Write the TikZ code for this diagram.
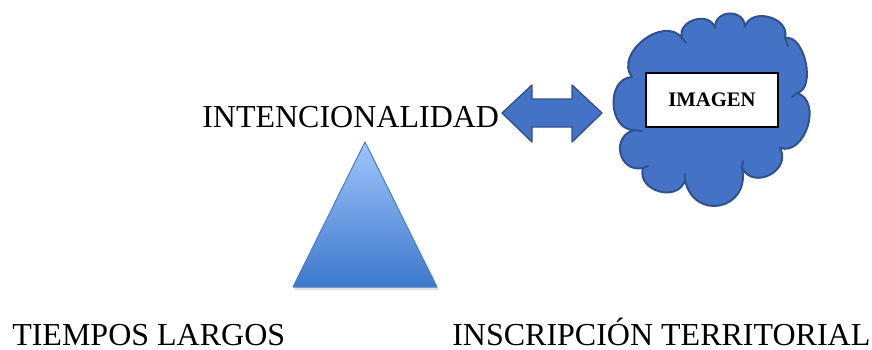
\documentclass[tikz,border=0pt]{standalone}
\usepackage{fontspec}
\setmainfont{Liberation Serif}
\definecolor{accent}{HTML}{4472C4}
\definecolor{accentdark}{HTML}{2F528F}
\definecolor{tritop}{HTML}{A0C4FC}
\definecolor{tribot}{HTML}{3C79CB}
\definecolor{triedge}{HTML}{4A80C8}
\tikzset{
  bigtext/.style={font=\fontsize{24}{28}\selectfont, inner sep=0pt, text depth=0pt, anchor=base west},
  bluefill/.style={fill=accent, draw=accentdark, line width=1.5pt, line join=round},
  hook/.style={draw=accentdark, line width=1.5pt, line cap=round},
}
\begin{document}
\begin{tikzpicture}[x=0.75pt,y=-0.75pt]
\useasboundingbox (0,0) rectangle (872,350);
% cloud
\draw[bluefill] (632,77)
  .. controls (613.9,53.7) and (663.9,14.7) .. (682,38)
  .. controls (676.7,20.4) and (709.7,10.4) .. (715,28)
  .. controls (714.4,9.3) and (744.4,8.3) .. (745,27)
  .. controls (750.6,6.5) and (790.6,17.5) .. (785,38)
  .. controls (804.5,33.7) and (816.5,88.7) .. (797,93)
  .. controls (822.5,100.9) and (805.5,155.9) .. (780,148)
  .. controls (791.8,170.4) and (753.8,190.4) .. (742,168)
  .. controls (750.8,209.8) and (693.8,221.8) .. (685,180)
  .. controls (678.4,203.1) and (636.4,191.1) .. (643,168)
  .. controls (618.2,173.2) and (610.2,135.2) .. (635,130)
  .. controls (608.4,131.5) and (605.4,78.5) .. (632,77) -- cycle;
% small inner hooks at the cloud's indents
\path[hook] (635,130) -- (642,131);
\path[hook] (643,168) -- (648,166);
\path[hook] (685,180) -- (685,174);
\path[hook] (742,168) -- (743,161);
\path[hook] (797,93) -- (792,97);
\path[hook] (682,38) -- (686,43);
\path[hook] (785,38) -- (788,46);
% label box
\node[draw=black, fill=white, line width=0.9pt, minimum width=132*0.75pt, minimum height=54*0.75pt,
      inner sep=0pt, font=\fontsize{15.5}{18}\selectfont\bfseries] (img) at (712,100) {IMAGEN};
% double arrow
\draw[bluefill, line width=1pt] (502,113) -- (532,85) -- (532,99) -- (572,99) -- (572,85) -- (602,113)
  -- (572,142) -- (572,127) -- (532,127) -- (532,142) -- cycle;
% triangle
\fill[black!12] (366,145) -- (439,290) -- (294,290) -- cycle;
\shade[top color=tritop, bottom color=tribot] (365,142) -- (437,287) -- (293,287) -- cycle;
\draw[triedge, line width=0.8pt, line join=round] (365,142) -- (437,287) -- (293,287) -- cycle;
% texts
\node[bigtext] (inten) at (202,127) {INTENCIONALIDAD};
\node[bigtext] (tiempos) at (12,345) {TIEMPOS LARGOS};
\node[bigtext] (inscr) at (452,345) {INSCRIPCIÓN TERRITORIAL};
\end{tikzpicture}
\end{document}
